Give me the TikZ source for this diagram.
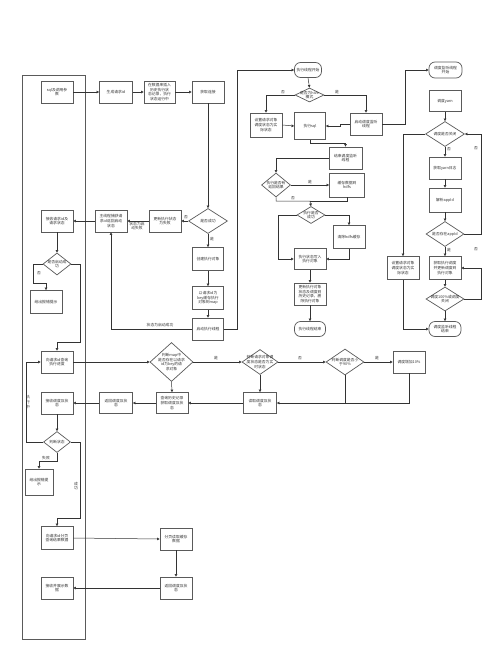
\documentclass[tikz,border=0pt]{standalone}
\usepackage{fontspec}
\setmainfont{Noto Sans CJK SC}
\usetikzlibrary{shapes.geometric,arrows.meta}
\definecolor{lncol}{HTML}{333333}
\definecolor{bdcol}{HTML}{5A5A5A}
\tikzset{
 base/.style={draw=bdcol, line width=0.7pt, fill=white, align=center, font=\fontsize{3.8}{4.8}\selectfont, text=lncol, inner sep=0.5pt},
 bx/.style={base, rectangle, minimum width=32pt, minimum height=22pt},
 tm/.style={base, rectangle, rounded corners=6pt, minimum width=30pt, minimum height=15pt},
 dm/.style 2 args={base, diamond, minimum width=#1pt, minimum height=#2pt, inner sep=0pt},
 dt/.style={align=center, font=\fontsize{3.8}{4.8}\selectfont, text=lncol, inner sep=0pt},
 lbl/.style={font=\fontsize{3.8}{4.8}\selectfont, text=lncol, inner sep=0pt, align=center},
 ar/.style={draw=lncol, line width=0.5pt, -{Triangle[length=2.6pt,width=2.6pt]}},
 cn/.style={draw=lncol, line width=0.5pt},
}
\begin{document}
\begin{tikzpicture}[x=1pt,y=-1pt]
\useasboundingbox (0,0) rectangle (500,659);
\node[draw=bdcol, line width=0.7pt, minimum width=63pt, minimum height=564pt, inner sep=0pt] (lane) at (53.5,357) {};

% left lane
\node[bx] (A1) at (57,92) {sql及调用参\\数};
\node[bx] (A2) at (57,221) {接收请求id及\\请求状态};
\node[dm={28}{22}] (D1) at (57,264) {}; \node[dt] (D1t) at (D1) {是否启动成\\功};
\node[bx, minimum height=23pt] (A3) at (46,302) {给出报错提示};
\node[bx] (A4) at (57,362) {向请求id查询\\执行进度};
\node[bx] (A5) at (57,403) {接收调度及状\\态};
\node[dm={27}{21}] (D2) at (57,442) {}; \node[dt] (D2t) at (D2) {判断状态};
\node[bx, minimum width=28pt, minimum height=26pt] (A6) at (39,482) {给出报错提\\示};
\node[bx, minimum height=23pt] (A7) at (57,538) {向请求id分页\\查询结果数据};
\node[bx] (A8) at (57,588) {接收并展示数\\据};

% top row
\node[bx, minimum width=33pt] (B1) at (116,92) {生成请求id};
\node[bx, minimum width=31pt] (B2) at (159.5,92) {在数据库插入\\历史执行状\\态记录，执行\\状态运行中};
\node[bx] (B3) at (208,92) {获取连接};
\node[dm={39}{25}] (D3) at (208,221) {}; \node[dt] (D3t) at (D3) {是否成功};
\node[bx] (B4) at (165,221) {更新执行状态\\为失败};
\node[bx] (B5) at (111,221) {主线程捕获请\\求id返回启动\\状态};
\node[bx, minimum width=31pt, minimum height=23pt] (B6) at (208,259) {创建执行对象};
\node[bx, minimum width=31pt, minimum height=23pt] (B7) at (208,298) {以请求id为\\key缓存执行\\对象到map};
\node[bx, minimum width=31pt] (B8) at (208,329) {启动执行线程};

% execution thread
\node[tm, minimum width=27pt, minimum height=15pt] (T1) at (308,70) {执行线程开始};
\node[dm={29}{14}] (D4) at (309.5,95) {}; \node[dt] (D4t) at (D4) {是否为hive\\模式};
\node[bx, minimum height=24pt] (C1) at (266,125) {设置请求对象\\调度状态为实\\际状态};
\node[bx, minimum width=31pt, minimum height=27pt] (C2) at (310,126) {执行sql};
\node[bx] (C3) at (366,124) {启动调度监听\\线程};
\node[bx, minimum width=33pt] (C4) at (345.5,158) {结束调度监听\\线程};
\node[dm={29}{24}] (D5) at (276,185) {}; \node[dt] (D5t) at (D5) {执行是否有\\返回结果};
\node[bx, minimum width=35pt, minimum height=24pt] (C5) at (347,185) {缓存数据到\\hdfs};
\node[dm={28}{17}] (D6) at (311,215) {}; \node[dt] (D6t) at (D6) {执行是否\\成功};
\node[bx, minimum height=23pt] (C6) at (349,237) {清除hdfs缓存};
\node[bx, minimum height=21pt] (C7) at (310,259) {执行状态写入\\执行对象};
\node[bx] (C8) at (310,294) {更新执行对象\\状态及调度到\\历史记录，删\\除执行对象};
\node[tm, minimum width=31pt] (T2) at (310,329) {执行线程结束};

% listener thread
\node[tm, minimum width=33pt, minimum height=16pt] (T3) at (445.5,70) {调度监听线程\\开始};
\node[bx, minimum height=21pt] (R1) at (445,101) {调度yarn};
\node[dm={39}{25}] (D7) at (445,134) {}; \node[dt] (D7t) at (D7) {调度是否关闭};
\node[bx] (R2) at (445,168) {获取yarn日志};
\node[bx, minimum height=24pt] (R3) at (445,200) {解析appId};
\node[dm={38}{25}] (D8) at (445,234) {}; \node[dt] (D8t) at (D8) {是否存在appId};
\node[bx, minimum height=23pt] (R4) at (403,268) {设置请求对象\\调度状态为实\\际状态};
\node[bx, minimum height=23pt] (R5) at (445,268) {获取执行调度\\并更新调度到\\执行对象};
\node[dm={38}{24}] (D9) at (445,299) {}; \node[dt] (D9t) at (D9) {调度100\%或调度\\关闭};
\node[tm, minimum width=32pt] (T4) at (445,329) {调度监听线程\\结束};

% query row
\node[dm={43}{39}] (D10) at (171.5,362) {}; \node[dt] (D10t) at (D10) {判断map中\\是否存在以请求\\id为key的请\\求对象};
\node[dm={36}{25}] (D11) at (260,362) {}; \node[dt] (D11t) at (D11) {判断请求对象调\\度状态是否为实\\时状态};
\node[dm={38}{26}] (D12) at (345,362) {}; \node[dt] (D12t) at (D12) {判断调度是否小\\于90\%};
\node[bx] (E1) at (409,362) {调度增加10\%};
\node[bx, minimum width=33pt, minimum height=21pt] (E2) at (260,403) {读取调度及状\\态};
\node[bx, minimum height=21pt] (E3) at (172,403) {查询历史记录\\获取调度及状\\态};
\node[bx, minimum width=33pt, minimum height=21pt] (E4) at (116,403) {返回调度及状\\态};
\node[bx] (F1) at (176,539) {分页读取缓存\\数据};
\node[bx] (F2) at (176,588) {返回调度及状\\态};

% connectors: top
\draw[ar] (A1.east) -- (B1.west);
\draw[ar] (B1.east) -- (B2.west);
\draw[ar] (B2.east) -- (B3.west);
\draw[ar] (B3.south) -- (D3.north);
\draw[ar] (D3.west) -- (B4.east);
\draw[ar] (B4.west) -- (B5.east);
\draw[ar] (B5.west) -- (A2.east);
\draw[ar] (A2.south) -- (D1.north);
\draw[ar] (D1.west) -- (33,264) -- (33,283) -- (46,283) -- (A3.north);
\draw[ar] (D1.east) -- (80,264) -- (80,342) -- (57,342) -- (A4.north);
\draw[ar] (D3.south) -- (B6.north);
\draw[ar] (B6.south) -- (B7.north);
\draw[ar] (B7.south) -- (B8.north);
\draw[ar] (B8.west) -| (B5.south);
\draw[ar] (B8.east) -- (237,329) -- (237,70) -- (T1.west);

% execution thread
\draw[ar] (T1.south) -- (D4.north);
\draw[ar] (D4.west) -| (C1.north);
\draw[ar] (D4.east) -| (C3.north);
\draw[ar] (C1.east) -- (C2.west);
\draw[ar] (C3.west) -- (340,124) -- (340,126) -- (C2.east);
\draw[ar] (C3.east) -- (405,124) -- (405,70) -- (T3.west);
\draw[ar] (C2.south) -- (310,143) -| (C4.north);
\draw[ar] (C4.west) -| (D5.north);
\draw[ar] (D5.east) -- (C5.west);
\draw[cn] (C5.south) |- (310,201);
\draw[ar] (D5.south) |- (310,201) -- (D6.north);
\draw[ar] (D6.west) -- (278,215) |- (C7.west);
\draw[ar] (D6.east) -| (C6.north);
\draw[ar] (C6.south) |- (C7.east);
\draw[ar] (C7.south) -- (C8.north);
\draw[ar] (C8.south) -- (T2.north);

% listener thread
\draw[ar] (R1.south) -- (D7.north);
\draw[ar] (D7.south) -- (R2.north);
\draw[ar] (R2.south) -- (R3.north);
\draw[ar] (R3.south) -- (D8.north);
\draw[ar] (D8.east) -- (481,234) -- (481,134) -- (D7.east);
\draw[ar] (D7.west) -| (R4.north);
\draw[ar] (D8.south) -- (R5.north);
\draw[ar] (R5.south) -- (D9.north);
\draw[ar] (D9.east) -- (481,299) -- (481,268) -- (R5.east);
\draw[ar] (D9.south) -- (T4.north);
\draw[ar] (R4.south) |- (T4.west);

% query row
\draw[ar] (A4.east) -- (D10.west);
\draw[ar] (D10.east) -- (D11.west);
\draw[ar] (D11.east) -- (D12.west);
\draw[ar] (D12.east) -- (E1.west);
\draw[cn] (D12.south) -- (345,403);
\draw[ar] (E1.south) |- (E2.east);
\draw[ar] (D11.south) -- (E2.north);
\draw[ar] (E2.west) -- (E3.east);
\draw[ar] (D10.south) -- (E3.north);
\draw[ar] (E3.west) -- (E4.east);
\draw[ar] (E4.west) -- (A5.east);
\draw[ar] (A5.south) -- (D2.north);
\draw[ar] (D2.west) -- (26,442) -- (26,362) -- (A4.west);
\draw[ar] (D2.south) -- (57,461) -- (39,461) -- (A6.north);
\draw[ar] (D2.east) -- (80,442) -- (80,518) -- (57,518) -- (A7.north);
\draw[ar] (A7.east) -- (F1.west);
\draw[ar] (F1.south) -- (F2.north);
\draw[ar] (F2.west) -- (A8.east);

% labels
\node[lbl] (l1) at (39,273) {否};
\node[lbl] (l2) at (186,217) {否};
\node[lbl] (l3) at (212,239) {是};
\node[lbl] (l4) at (137,226) {状态为启\\动失败};
\node[lbl] (l5) at (160,325) {状态为启动成功};
\node[lbl] (l6) at (283,92) {否};
\node[lbl] (l7) at (337,92) {是};
\node[lbl] (l8) at (310,182) {是};
\node[lbl] (l9) at (293,198) {否};
\node[lbl] (l10) at (449,149) {否};
\node[lbl] (l11) at (476,148) {否};
\node[lbl] (l12) at (449,250) {是};
\node[lbl] (l13) at (476,249) {否};
\node[lbl] (l14) at (216,358) {是};
\node[lbl] (l15) at (300,358) {否};
\node[lbl] (l16) at (377,358) {是};
\node[lbl] (l17) at (28,402) {执\\行\\中};
\node[lbl] (l18) at (46,458) {失败};
\node[lbl] (l19) at (76,486) {成\\功};
\end{tikzpicture}
\end{document}
